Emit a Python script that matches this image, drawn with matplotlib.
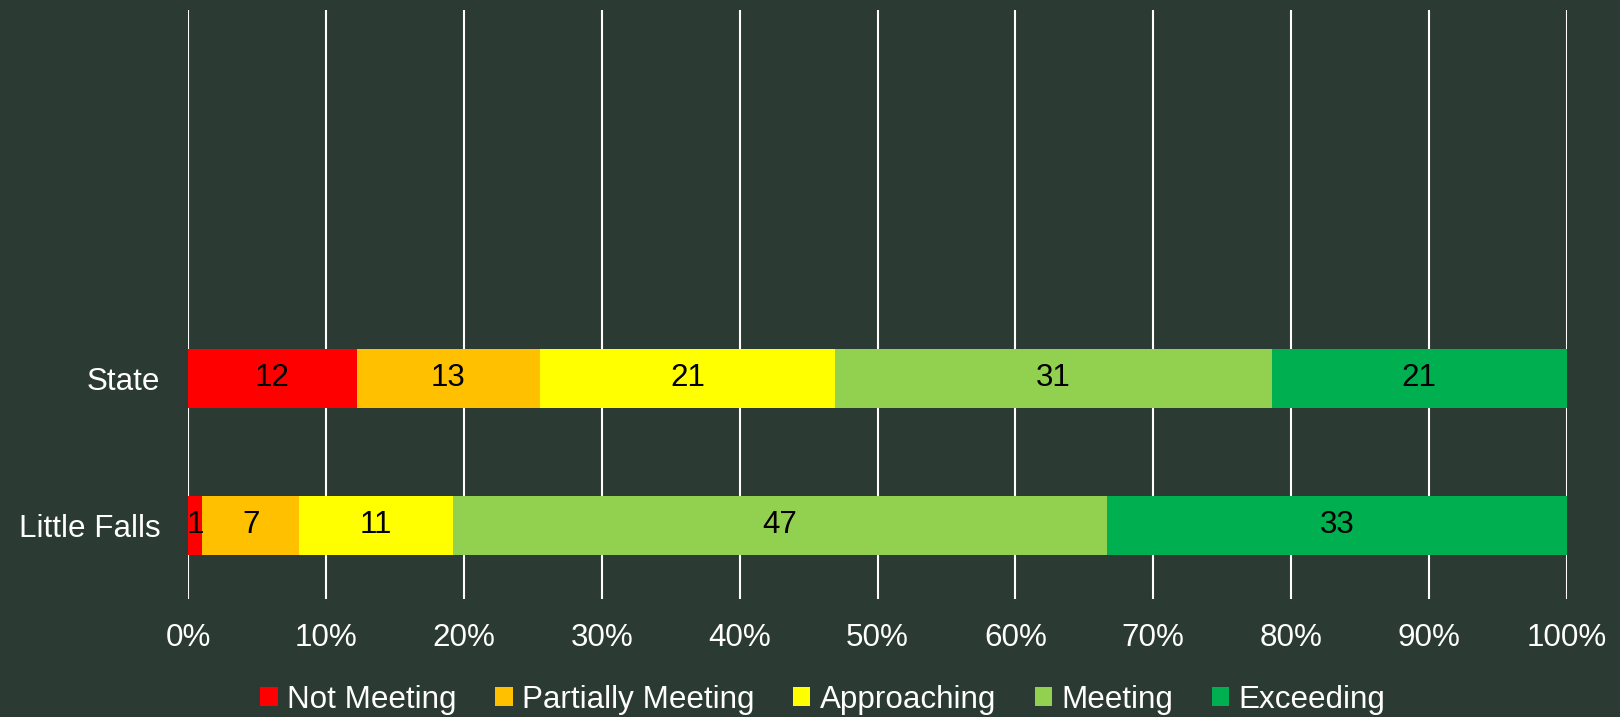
import matplotlib
matplotlib.use("Agg")
import matplotlib.pyplot as plt
import numpy as np

categories = ["Little Falls", "State"]
series_names = ["Not Meeting", "Partially Meeting", "Approaching", "Meeting", "Exceeding"]
values = {
    "Not Meeting": [1, 12],
    "Partially Meeting": [7, 13],
    "Approaching": [11, 21],
    "Meeting": [47, 31],
    "Exceeding": [33, 21],
}
colors = ["#FF0000", "#FFC000", "#FFFF00", "#92D050", "#00B050"]
xtick_labels = ["0%", "10%", "20%", "30%", "40%", "50%", "60%", "70%", "80%", "90%", "100%"]

bg = "#2B3A32"
FS = 22.6
plt.rcParams['font.family'] = ['Liberation Sans', 'DejaVu Sans']

fig = plt.figure(figsize=(16.2, 7.17), dpi=100, facecolor=bg)
ax = fig.add_axes([188/1620, 1-599/717, (1567-188)/1620, (599-10)/717])
ax.set_facecolor(bg)

data = np.array([values[s] for s in series_names], dtype=float)
totals = data.sum(axis=0)
pct = data / totals * 100
y = np.arange(len(categories))
left = np.zeros(len(categories))
for i, name in enumerate(series_names):
    ax.barh(y, pct[i], left=left, height=0.4, color=colors[i], label=name, zorder=3)
    for j in range(len(categories)):
        ax.text(left[j] + pct[i][j] / 2, y[j], f"{int(data[i][j])}", ha="center", va="center",
                fontsize=FS, color="black", zorder=4)
    left += pct[i]

ax.set_xlim(0, 100)
ax.set_ylim(-0.5, 3.5)
ax.set_xticks(np.arange(0, 101, 10))
ax.set_xticklabels(xtick_labels)
ax.set_yticks(y)
ax.set_yticklabels(categories)
ax.tick_params(axis="x", length=0, pad=17, labelsize=FS, colors="white")
ax.tick_params(axis="y", length=0, pad=20, labelsize=FS, colors="white")
ax.grid(axis="x", color="white", linewidth=1.5, zorder=1)
ax.set_axisbelow(True)
for s in ax.spines.values():
    s.set_visible(False)

fig.legend(loc="center", bbox_to_anchor=(0.508, 1-700/717), ncol=5, frameon=False,
           fontsize=FS, handlelength=0.55, handleheight=0.55, handletextpad=0.3,
           columnspacing=1.23, labelcolor="white")

fig.savefig("out.png", dpi=100, facecolor=bg)
